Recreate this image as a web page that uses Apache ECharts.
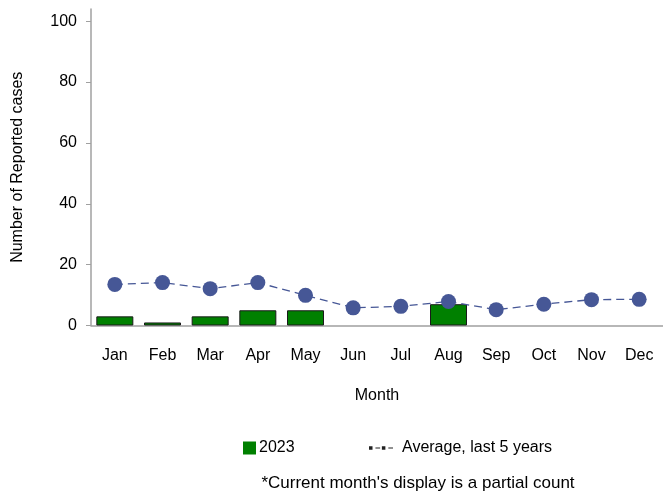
<!DOCTYPE html>
<html>
<head>
<meta charset="utf-8">
<script src="https://cdn.jsdelivr.net/npm/echarts@6/dist/echarts.min.js"></script>
<style>
html,body{margin:0;padding:0;background:#fff;}
#chart{width:663px;height:494px;}
</style>
</head>
<body>
<div id="chart"></div>
<script>
const months = ['Jan','Feb','Mar','Apr','May','Jun','Jul','Aug','Sep','Oct','Nov','Dec'];
const cases2023 = [3, 1, 3, 5, 5, null, null, 7, null, null, null, null];
const avg5yr = [13.5, 14.1, 12.1, 14.1, 9.9, 5.8, 6.3, 7.9, 5.2, 7.0, 8.5, 8.6];
const yTicks = [0, 20, 40, 60, 80, 100];

const font = 'Liberation Sans, Arial, sans-serif';
const chart = echarts.init(document.getElementById('chart'), null, {renderer: 'canvas'});
chart.setOption({
  animation: false,
  backgroundColor: '#ffffff',
  textStyle: {fontFamily: font},
  grid: {left: 91, right: -5, top: 9, bottom: 168.5, containLabel: false},
  title: {
    text: "*Current month's display is a partial count",
    left: 418, top: 475, textAlign: 'center', padding: 0,
    textStyle: {fontFamily: font, fontSize: 17, fontWeight: 'normal', color: '#000'}
  },
  legend: [
    {
      data: ['2023'], left: 243, top: 440, padding: 0, itemWidth: 13, itemHeight: 13, itemGap: 5,
      icon: 'rect',
      itemStyle: {color: '#008000', borderWidth: 0},
      textStyle: {fontFamily: font, fontSize: 16, color: '#000', padding: [0,0,0,-2]}
    },
    {
      data: ['Average, last 5 years'], left: 369, top: 440, padding: 0, itemWidth: 24, itemHeight: 4,
      icon: 'path://M0,0.5h3v3h-3z M5.5,1.5h4v1h-4z M11,0.5h3v3h-3z M16.5,1.5h4v1h-4z',
      itemStyle: {color: '#222', borderWidth: 0},
      lineStyle: {width: 0},
      textStyle: {fontFamily: font, fontSize: 16, color: '#000', padding: [0,0,0,4]}
    }
  ],
  xAxis: {
    type: 'category',
    data: months,
    name: 'Month', nameLocation: 'middle', nameGap: 62,
    nameTextStyle: {fontFamily: font, fontSize: 16, color: '#000'},
    axisLine: {show: true, lineStyle: {color: '#a0a0a0', width: 1.5}},
    axisTick: {show: false},
    axisLabel: {fontFamily: font, fontSize: 16, color: '#000', margin: 22, interval: 0},
    splitLine: {show: false}
  },
  yAxis: {
    type: 'value', min: 0, max: 104,
    name: 'Number of Reported cases', nameLocation: 'middle', nameGap: 65,
    nameTextStyle: {fontFamily: font, fontSize: 16, color: '#000'},
    axisLine: {show: true, lineStyle: {color: '#a0a0a0', width: 1.5}},
    axisTick: {show: true, length: 5, customValues: yTicks, lineStyle: {color: '#a0a0a0'}},
    axisLabel: {fontFamily: font, fontSize: 16, color: '#000', margin: 14, customValues: yTicks},
    splitLine: {show: false}
  },
  series: [
    {
      name: '2023', type: 'bar', data: cases2023, barWidth: 37,
      itemStyle: {color: '#008000', borderColor: '#1a1a1a', borderWidth: 1},
      z: 2
    },
    {
      name: 'Average, last 5 years', type: 'line', data: avg5yr,
      symbol: 'circle', symbolSize: 15,
      itemStyle: {color: '#465796'},
      lineStyle: {color: '#465796', width: 1.3, type: [8, 5]},
      z: 3
    }
  ]
});
</script>
</body>
</html>
